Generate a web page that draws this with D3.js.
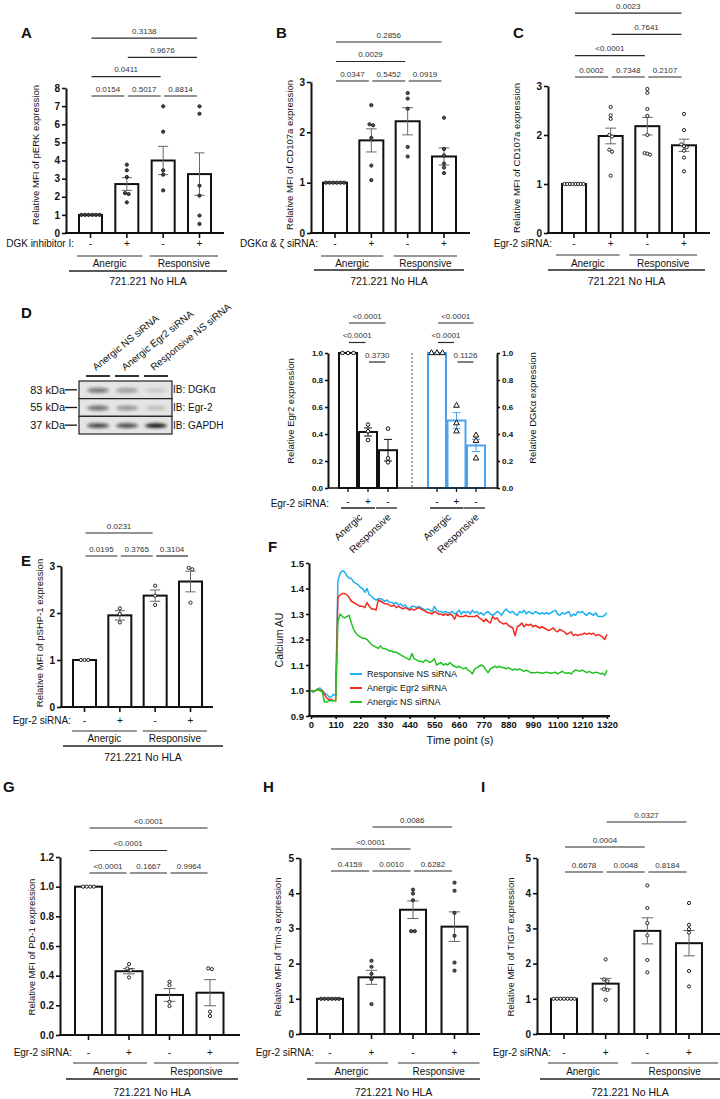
<!DOCTYPE html>
<html><head><meta charset="utf-8">
<script src="https://cdn.jsdelivr.net/npm/d3@7"></script>
<style>
body{margin:0;background:#fff;}
svg{display:block;font-family:"Liberation Sans",Arial,Helvetica,sans-serif;}
</style></head><body>
<svg id="fig" width="720" height="1099"></svg>
<script>
// ================= DATA =================
const treatSigns4 = ["-", "+", "-", "+"];
const groupNames = ["Anergic", "Responsive"];
const cellLine = "721.221 No HLA";

// Panel A – pERK
const aMeans = [1, 2.7, 4.0, 3.25];
const aSem = [0, 0.35, 0.78, 1.17];
const aPoints = [[1,1,1,1,1,1],[3.77,3.46,3.09,2.2,2.15,1.69],[6.99,5.59,3.46,3.22,2.35],[6.99,6.58,2.61,2.06,0.96,0.5]];
const aComps = [[0,1,"0.0154",0],[1,2,"0.5017",0],[2,3,"0.8814",0],[0,2,"0.0411",1],[1,3,"0.9676",2],[0,3,"0.3138",3]];
const aTicks = [0,1,2,3,4,5,6,7,8];

// Panel B – CD107a (DGK siRNA)
const bMeans = [1, 1.84, 2.22, 1.52];
const bSem = [0, 0.23, 0.27, 0.17];
const bPoints = [[1,1,1,1,1,1],[2.54,2.16,2.14,1.89,1.34,1.05],[2.78,2.67,2.47,1.71,1.52],[2.29,1.67,1.54,1.38,1.3,1.19]];
const bComps = [[0,1,"0.0347",0],[1,2,"0.5452",0],[2,3,"0.0919",0],[0,2,"0.0029",1],[0,3,"0.2856",2]];
const bTicks = [0,1,2,3];

// Panel C – CD107a (Egr-2 siRNA)
const cMeans = [1, 1.98, 2.18, 1.79];
const cSem = [0, 0.16, 0.18, 0.125];
const cPoints = [[1,1,1,1,1,1,1,1],[2.57,2.4,2.33,2.0,1.97,1.7,1.66,1.17],[2.94,2.86,2.53,2.39,2.0,1.63,1.62,1.6],[2.43,2.1,1.81,1.77,1.75,1.68,1.54,1.26]];
const cComps = [[0,1,"0.0002",0],[1,2,"0.7348",0],[2,3,"0.2107",0],[0,2,"<0.0001",1],[1,3,"0.7641",2],[0,3,"0.0023",3]];
const cTicks = [0,1,2,3];

// Panel D – western blot
const blotLanes = ["Anergic NS siRNA", "Anergic Egr2 siRNA", "Responsive NS siRNA"];
const blotTargets = ["IB: DGK\u03b1", "IB: Egr-2", "IB: GAPDH"];
const blotMW = ["83 kDa", "55 kDa", "37 kDa"];
const bandIntensity = [[0.5,0.34,0.1],[0.55,0.38,0.15],[0.75,0.72,0.97]];

// Panel D – quantification
const dSigns = ["-", "+", "-"];
const dGroups = ["Anergic", "Responsive"];
const egr2Means = [1.0, 0.415, 0.28];
const egr2Sem = [0, 0.03, 0.08];
const egr2Points = [[1,1,1],[0.47,0.42,0.355],[0.44,0.22,0.19]];
const egr2Comps = [[0,1,"<0.0001",1],[1,2,"0.3730",0],[0,2,"<0.0001",2]];
const dgkMeans = [1.0, 0.5, 0.315];
const dgkSem = [0, 0.058, 0.045];
const dgkPoints = [[1,1,1],[0.61,0.48,0.42],[0.39,0.35,0.22]];
const dgkComps = [[0,1,"<0.0001",1],[1,2,"0.1126",0],[0,2,"<0.0001",2]];
const dTicks = [0,0.2,0.4,0.6,0.8,1.0];

// Panel E – pSHP-1
const eMeans = [1, 1.95, 2.37, 2.67];
const eSem = [0, 0.1, 0.12, 0.22];
const ePoints = [[1,1,1],[2.1,1.98,1.8],[2.58,2.37,2.17],[2.96,2.93,2.22]];
const eComps = [[0,1,"0.0195",0],[1,2,"0.3765",0],[2,3,"0.3104",0],[0,2,"0.0231",1]];
const eTicks = [0,1,2,3];

// Panel F – calcium flux
const fTime = [0,10,20,30,40,50,60,70,80,90,100,110,120,130,140,150,160,170,180,190,200,210,220,230,240,250,260,270,280,290,300,310,320,330,340,350,360,370,380,390,400,410,420,430,440,450,460,470,480,490,500,510,520,530,540,550,560,570,580,590,600,610,620,630,640,650,660,670,680,690,700,710,720,730,740,750,760,770,780,790,800,810,820,830,840,850,860,870,880,890,900,910,920,930,940,950,960,970,980,990,1000,1010,1020,1030,1040,1050,1060,1070,1080,1090,1100,1110,1120,1130,1140,1150,1160,1170,1180,1190,1200,1210,1220,1230,1240,1250,1260,1270,1280,1290,1300,1310,1320];
const fResponsiveNS = [1.00,0.995,1.00,1.005,1.01,1.00,0.99,0.985,0.975,0.975,0.985,0.98,1.43,1.46,1.47,1.465,1.45,1.44,1.44,1.425,1.42,1.415,1.405,1.40,1.385,1.40,1.375,1.37,1.36,1.355,1.36,1.36,1.355,1.35,1.355,1.345,1.345,1.34,1.345,1.335,1.34,1.33,1.335,1.325,1.32,1.33,1.33,1.325,1.33,1.325,1.32,1.315,1.32,1.315,1.31,1.33,1.315,1.31,1.31,1.305,1.31,1.305,1.305,1.31,1.30,1.305,1.315,1.30,1.31,1.305,1.31,1.30,1.315,1.305,1.31,1.30,1.305,1.295,1.305,1.31,1.30,1.295,1.30,1.31,1.305,1.295,1.31,1.32,1.31,1.305,1.31,1.30,1.295,1.31,1.305,1.315,1.30,1.31,1.305,1.30,1.31,1.305,1.30,1.305,1.30,1.305,1.30,1.305,1.31,1.315,1.30,1.295,1.305,1.30,1.305,1.31,1.29,1.30,1.295,1.31,1.305,1.31,1.30,1.295,1.305,1.30,1.295,1.305,1.29,1.29,1.29,1.295,1.305];
const fAnergicEgr2 = [1.00,0.995,1.00,1.005,1.00,1.00,0.985,0.97,0.965,0.965,0.96,0.96,1.365,1.375,1.38,1.38,1.375,1.365,1.35,1.345,1.34,1.335,1.33,1.33,1.325,1.345,1.33,1.32,1.32,1.315,1.355,1.35,1.345,1.34,1.34,1.335,1.33,1.335,1.325,1.33,1.325,1.32,1.325,1.32,1.315,1.32,1.315,1.32,1.325,1.32,1.315,1.31,1.305,1.305,1.30,1.31,1.305,1.30,1.30,1.295,1.30,1.295,1.30,1.295,1.28,1.30,1.29,1.29,1.29,1.295,1.29,1.29,1.29,1.29,1.295,1.285,1.28,1.27,1.28,1.27,1.265,1.29,1.28,1.285,1.27,1.265,1.26,1.265,1.255,1.25,1.245,1.215,1.25,1.255,1.265,1.25,1.26,1.255,1.26,1.25,1.255,1.25,1.245,1.25,1.245,1.24,1.235,1.24,1.245,1.235,1.23,1.24,1.235,1.23,1.22,1.225,1.23,1.215,1.22,1.215,1.22,1.22,1.225,1.22,1.225,1.22,1.225,1.215,1.22,1.215,1.21,1.20,1.22];
const fAnergicNS = [1.00,0.995,1.00,1.005,1.00,0.995,0.955,0.955,0.96,0.96,0.96,0.96,1.27,1.30,1.29,1.285,1.29,1.295,1.265,1.24,1.225,1.215,1.21,1.205,1.205,1.20,1.19,1.18,1.175,1.17,1.165,1.175,1.165,1.165,1.16,1.155,1.155,1.15,1.15,1.145,1.14,1.135,1.13,1.125,1.12,1.145,1.125,1.12,1.115,1.115,1.11,1.12,1.115,1.11,1.115,1.125,1.10,1.105,1.11,1.10,1.105,1.10,1.11,1.10,1.095,1.09,1.095,1.09,1.085,1.09,1.08,1.075,1.065,1.085,1.09,1.095,1.10,1.095,1.08,1.07,1.085,1.09,1.095,1.09,1.095,1.09,1.09,1.085,1.09,1.085,1.08,1.085,1.08,1.085,1.08,1.075,1.08,1.075,1.07,1.07,1.07,1.072,1.07,1.068,1.07,1.072,1.07,1.068,1.07,1.072,1.065,1.07,1.075,1.07,1.068,1.07,1.065,1.075,1.08,1.078,1.075,1.08,1.075,1.07,1.075,1.07,1.068,1.072,1.07,1.065,1.068,1.06,1.08];
const fSeriesNames = ["Responsive NS siRNA", "Anergic Egr2 siRNA", "Anergic NS siRNA"];
const fYTicks = [0.9,1.0,1.1,1.2,1.3,1.4,1.5];
const fXTicks = [0,110,220,330,440,550,660,770,880,990,1100,1210,1320];

// Panel G – PD-1
const gMeans = [1.0, 0.43, 0.27, 0.285];
const gSem = [0, 0.018, 0.043, 0.088];
const gPoints = [[1,1,1,1],[0.478,0.449,0.437,0.388],[0.359,0.336,0.224,0.195],[0.449,0.444,0.157,0.128]];
const gComps = [[0,1,"<0.0001",0],[1,2,"0.1667",0],[2,3,"0.9964",0],[0,2,"<0.0001",1],[0,3,"<0.0001",2]];
const gTicks = [0,0.2,0.4,0.6,0.8,1.0,1.2];

// Panel H – Tim-3
const hMeans = [1.0, 1.61, 3.53, 3.05];
const hSem = [0, 0.2, 0.25, 0.42];
const hPoints = [[1,1,1,1,1,1],[2.08,1.91,1.71,1.56,0.85],[4.1,3.99,3.8,2.92,2.92],[4.3,4.07,3.44,2.79,2.03,1.8]];
const hComps = [[0,1,"0.4159",0],[1,2,"0.0010",0],[2,3,"0.6282",0],[0,2,"<0.0001",1],[1,3,"0.0086",2]];
const hTicks = [0,1,2,3,4,5];

// Panel I – TIGIT
const iMeans = [1.0, 1.43, 2.93, 2.58];
const iSem = [0, 0.15, 0.37, 0.36];
const iPoints = [[1,1,1,1,1,1,1],[2.12,1.55,1.5,1.27,1.25,0.97],[4.22,3.58,3.15,2.8,2.1,1.75],[3.72,3.1,2.98,2.88,1.79,1.35]];
const iComps = [[0,1,"0.6678",0],[1,2,"0.0048",0],[2,3,"0.8184",0],[0,2,"0.0004",1],[1,3,"0.0327",2]];
const iTicks = [0,1,2,3,4,5];

// ================= DRAWING =================
const svg = d3.select("#fig");
const INK = "#111";

function txt(g, x, y, s, opt = {}) {
  const t = g.append("text").attr("x", x).attr("y", y).attr("dy", "0.35em")
    .attr("font-size", opt.size || 10).attr("fill", opt.fill || INK)
    .attr("text-anchor", opt.anchor || "middle").text(s);
  if (opt.bold) t.attr("font-weight", "bold");
  return t;
}
function hline(g, x1, x2, y, w = 1, c = INK) {
  g.append("line").attr("x1", x1).attr("x2", x2).attr("y1", y).attr("y2", y).attr("stroke", c).attr("stroke-width", w);
}
function vtitle(g, x, y, s, size = 9.5) {
  g.append("text").attr("transform", `translate(${x},${y}) rotate(-90)`).attr("dy", "0.35em")
    .attr("text-anchor", "middle").attr("font-size", size).attr("fill", INK).text(s);
}
function letter(t, x, y) { txt(svg, x, y, t, {size: 15, bold: true, anchor: "start"}); }

function jitterOffsets(vals, y, spread) {
  const px = vals.map(v => y(v));
  const idx = d3.range(vals.length).sort((a, b) => px[a] - px[b]);
  const offs = new Array(vals.length).fill(0);
  let i = 0;
  while (i < idx.length) {
    let j = i;
    while (j + 1 < idx.length && px[idx[j + 1]] - px[idx[i]] < 3.2) j++;
    const n = j - i + 1;
    for (let k = 0; k < n; k++) offs[idx[i + k]] = (k - (n - 1) / 2) * spread;
    i = j + 1;
  }
  return offs;
}

function styleAxis(ax, size) {
  ax.attr("font-family", null).attr("font-size", size).attr("font-weight", "bold");
  ax.selectAll("path").attr("stroke", INK).attr("stroke-width", 2);
  ax.selectAll("line").attr("stroke", INK).attr("stroke-width", 1.6);
  ax.selectAll("text").attr("fill", INK);
}

function drawSig(g, comps, x, L) {
  comps.forEach(([a, b, p, tier]) => {
    const yy = L.sig0 - tier * L.sigGap;
    const x1 = x(a) + 1, x2 = x(b) - 2.5;
    hline(g, x1, x2, yy, 1.2, "#2a2a2a");
    g.append("text").attr("x", (x1 + x2) / 2).attr("y", yy - 4.5).attr("text-anchor", "middle")
      .attr("font-size", 8).attr("fill", "#333").text(p);
  });
}

function barPanel(D, L) {
  const g = svg.append("g");
  const x = d3.scalePoint().domain(d3.range(D.means.length)).range([L.c0, L.c1]);
  const y = d3.scaleLinear().domain([0, D.ymax]).range([L.y0, L.yTop]);
  g.selectAll("rect.bar").data(D.means).join("rect").attr("class", "bar")
    .attr("x", (v, i) => x(i) - L.bw / 2).attr("y", v => y(v))
    .attr("width", L.bw).attr("height", v => L.y0 - y(v))
    .attr("fill", "#fff").attr("stroke", INK).attr("stroke-width", 2);
  D.means.forEach((m, i) => {
    const s = D.sem[i]; if (!s) return;
    const cx = x(i), cap = L.bw * 0.22;
    g.append("line").attr("x1", cx).attr("x2", cx).attr("y1", y(m - s)).attr("y2", y(m + s)).attr("stroke", "#666").attr("stroke-width", 1);
    hline(g, cx - cap, cx + cap, y(m + s), 1, "#666");
    hline(g, cx - cap, cx + cap, y(m - s), 1, "#666");
  });
  D.points.forEach((pts, i) => {
    const sp = Math.min(3.6, (L.bw - 5) / Math.max(1, pts.length - 1));
    const offs = jitterOffsets(pts, y, sp);
    g.selectAll(null).data(pts).join("circle")
      .attr("cx", (v, k) => x(i) + offs[k]).attr("cy", v => y(v)).attr("r", 1.6)
      .attr("fill", L.ptFill || "#fff").attr("stroke", "#222").attr("stroke-width", 1);
  });
  const ax = g.append("g").attr("transform", `translate(${L.axisX},0)`)
    .call(d3.axisLeft(y).tickValues(D.ticks).tickFormat(d3.format(D.fmt)).tickSize(4).tickSizeOuter(0).tickPadding(2));
  styleAxis(ax, 10);
  hline(g, L.axisX - 1, L.axisEnd, L.y0, 2);
  D.means.forEach((m, i) => {
    g.append("line").attr("x1", x(i)).attr("x2", x(i)).attr("y1", L.y0).attr("y2", L.y0 + 5).attr("stroke", INK).attr("stroke-width", 1.6);
  });
  vtitle(g, L.titleX, L.titleY, D.title, 9.5);
  drawSig(g, D.comps, x, L);
  txt(g, L.treatX, L.signY, D.treat, {anchor: "end", size: 10});
  treatSigns4.forEach((s, i) => txt(g, x(i), L.signY, s, {size: 10}));
  [[0, 1], [2, 3]].forEach(([a, b], k) => {
    const gx1 = x(a) - L.gpad[0], gx2 = x(b) + L.gpad[k === 0 ? 1 : 2];
    hline(g, gx1, gx2, L.groupLineY, 1, "#333");
    txt(g, (gx1 + gx2) / 2, L.groupTextY, groupNames[k], {size: 10});
  });
  hline(g, L.bot[0], L.bot[1], L.bottomLineY, 1.6, "#222");
  txt(g, (L.bot[0] + L.bot[1]) / 2, L.bottomTextY, cellLine, {size: 10.5});
}

// ---- Panel A
letter("A", 21, 33);
barPanel({means: aMeans, sem: aSem, points: aPoints, comps: aComps, ticks: aTicks, fmt: "d", ymax: 8,
  title: "Relative MFI of pERK expression", treat: "DGK inhibitor I:"},
  {axisX: 66, axisEnd: 224, y0: 233, yTop: 88, c0: 90.5, c1: 199.5, bw: 23, titleX: 36, titleY: 155,
   sig0: 96, sigGap: 19.3, treatX: 74, signY: 243, gpad: [13.5, 15.5, 18.5], groupLineY: 256, groupTextY: 263,
   bot: [69, 227], bottomLineY: 271, bottomTextY: 281, ptFill: "#444"});

// ---- Panel B
letter("B", 276, 33);
barPanel({means: bMeans, sem: bSem, points: bPoints, comps: bComps, ticks: bTicks, fmt: "d", ymax: 3,
  title: "Relative MFI of CD107a expression", treat: "DGK\u03b1 & \u03b6 siRNA:"},
  {axisX: 311, axisEnd: 470, y0: 233, yTop: 82, c0: 335, c1: 444, bw: 24, titleX: 290, titleY: 155,
   sig0: 81, sigGap: 19.5, treatX: 318, signY: 243, gpad: [14, 12, 13], groupLineY: 256, groupTextY: 263,
   bot: [314, 464], bottomLineY: 270, bottomTextY: 281, ptFill: "#555"});

// ---- Panel C
letter("C", 513, 33);
barPanel({means: cMeans, sem: cSem, points: cPoints, comps: cComps, ticks: cTicks, fmt: "d", ymax: 3,
  title: "Relative MFI of CD107a expression", treat: "Egr-2 siRNA:"},
  {axisX: 548, axisEnd: 710, y0: 233, yTop: 86, c0: 574, c1: 684, bw: 24, titleX: 517, titleY: 158,
   sig0: 77, sigGap: 21.3, treatX: 552, signY: 243, gpad: [18, 9, 13], groupLineY: 255, groupTextY: 263,
   bot: [548, 705], bottomLineY: 270, bottomTextY: 281});

// ---- Panel D blot
letter("D", 21, 313);
(function () {
  const g = svg.append("g");
  const defs = svg.append("defs");
  defs.append("filter").attr("id", "blur").attr("x", "-50%").attr("y", "-100%").attr("width", "200%").attr("height", "300%")
    .append("feGaussianBlur").attr("stdDeviation", 1.4);
  const lane = d3.scalePoint().domain(d3.range(blotLanes.length)).range([98, 156]);
  const row = d3.scaleBand().domain(d3.range(blotTargets.length)).range([381, 434]);
  blotTargets.forEach((t, r) => {
    g.append("rect").attr("x", 79).attr("y", row(r)).attr("width", 93).attr("height", row.bandwidth())
      .attr("fill", "#e4e4e4").attr("stroke", "#222").attr("stroke-width", 1.2);
    bandIntensity[r].forEach((v, l) => {
      g.append("ellipse").attr("cx", lane(l)).attr("cy", row(r) + row.bandwidth() / 2 + 0.5)
        .attr("rx", 11).attr("ry", r === 2 ? 2.3 : 2.6).attr("fill", `rgba(20,20,20,${v})`).attr("filter", "url(#blur)");
    });
    const cy = row(r) + row.bandwidth() / 2;
    txt(g, 65, cy, blotMW[r], {anchor: "end", size: 11});
    hline(g, 65, 77, cy, 1.3);
    txt(g, 173, cy, t, {anchor: "start", size: 10});
  });
  blotLanes.forEach((s, l) => {
    hline(g, lane(l) - 12, lane(l) + 12, 376, 2, "#333");
    g.append("text").attr("transform", `translate(${lane(l) - 2},371) rotate(-39)`)
      .attr("font-size", 10).attr("fill", INK).text(s);
  });
})();

// ---- Panel D quantification
(function () {
  const g = svg.append("g");
  const y0 = 488, yTop = 353, axL = 328, axR = 497;
  const y = d3.scaleLinear().domain([0, 1]).range([y0, yTop]);
  const xE = d3.scalePoint().domain(d3.range(3)).range([348, 388]);
  const xD = d3.scalePoint().domain(d3.range(3)).range([437, 476]);
  const bw = 18;
  const sets = [
    {x: xE, means: egr2Means, sem: egr2Sem, pts: egr2Points, comps: egr2Comps, color: "#111", sym: "circle"},
    {x: xD, means: dgkMeans, sem: dgkSem, pts: dgkPoints, comps: dgkComps, color: "#4aa3f0", sym: "tri"}
  ];
  sets.forEach(S => {
    g.selectAll(null).data(S.means).join("rect")
      .attr("x", (v, i) => S.x(i) - bw / 2).attr("y", v => y(v)).attr("width", bw).attr("height", v => y0 - y(v))
      .attr("fill", "#fff").attr("stroke", S.color).attr("stroke-width", 2);
    S.means.forEach((m, i) => {
      const s = S.sem[i]; if (!s) return;
      const cx = S.x(i);
      g.append("line").attr("x1", cx).attr("x2", cx).attr("y1", y(m - s)).attr("y2", y(m + s)).attr("stroke", S.color).attr("stroke-width", 1);
      hline(g, cx - 4, cx + 4, y(m + s), 1, S.color);
      hline(g, cx - 4, cx + 4, y(m - s), 1, S.color);
    });
    S.pts.forEach((pts, i) => {
      const offs = jitterOffsets(pts, y, 5.5);
      pts.forEach((v, k) => {
        if (S.sym === "circle") {
          g.append("circle").attr("cx", S.x(i) + offs[k]).attr("cy", y(v)).attr("r", 1.8)
            .attr("fill", "#fff").attr("stroke", "#111").attr("stroke-width", 1);
        } else {
          g.append("path").attr("d", d3.symbol(d3.symbolTriangle, 14)())
            .attr("transform", `translate(${S.x(i) + offs[k]},${y(v)})`)
            .attr("fill", "#fff").attr("stroke", "#111").attr("stroke-width", 1);
        }
      });
      g.append("line").attr("x1", S.x(i)).attr("x2", S.x(i)).attr("y1", y0).attr("y2", y0 + 4).attr("stroke", INK).attr("stroke-width", 1.3);
    });
    drawSig(g, S.comps, S.x, {sig0: 362, sigGap: 19.5});
    dSigns.forEach((s, i) => txt(g, S.x(i), 501, s, {size: 10}));
    const gl = [[S.x(0) - 7, S.x(1) + 7], [S.x(2) - 12, S.x(2) + 9]];
    gl.forEach(([a, b], k) => {
      hline(g, a, b, 508, 1.3, "#222");
      g.append("text").attr("transform", `translate(${(a + b) / 2 + 5},518) rotate(-43)`)
        .attr("text-anchor", "end").attr("font-size", 10).attr("fill", INK).text(dGroups[k]);
    });
  });
  const axl = g.append("g").attr("transform", `translate(${axL},0)`)
    .call(d3.axisLeft(y).tickValues(dTicks).tickFormat(d3.format(".1f")).tickSize(3).tickSizeOuter(0).tickPadding(2));
  styleAxis(axl, 8);
  const axr = g.append("g").attr("transform", `translate(${axR},0)`)
    .call(d3.axisRight(y).tickValues(dTicks).tickFormat(d3.format(".1f")).tickSize(3).tickSizeOuter(0).tickPadding(2));
  styleAxis(axr, 8);
  hline(g, axL, axR, y0, 1.5);
  g.append("line").attr("x1", 412).attr("x2", 412).attr("y1", yTop).attr("y2", y0)
    .attr("stroke", "#444").attr("stroke-width", 1).attr("stroke-dasharray", "2,2");
  vtitle(g, 291, 411, "Relative Egr2 expression", 9.5);
  vtitle(g, 533, 408, "Relative DGK\u03b1 expression", 9.5);
  txt(g, 329, 503, "Egr-2 siRNA:", {anchor: "end", size: 10});
})();

// ---- Panel E
letter("E", 21, 561);
barPanel({means: eMeans, sem: eSem, points: ePoints, comps: eComps, ticks: eTicks, fmt: "d", ymax: 3,
  title: "Relative MFI of pSHP-1 expression", treat: "Egr-2 siRNA:"},
  {axisX: 61, axisEnd: 213, y0: 707, yTop: 566, c0: 84.5, c1: 190.5, bw: 23, titleX: 40, titleY: 633,
   sig0: 556, sigGap: 23, treatX: 71, signY: 720, gpad: [12.5, 17, 16.5], groupLineY: 731, groupTextY: 738,
   bot: [63, 223], bottomLineY: 746, bottomTextY: 757});

// ---- Panel F
letter("F", 268, 547);
(function () {
  const g = svg.append("g");
  const x = d3.scaleLinear().domain([0, 1320]).range([311, 607]);
  const y = d3.scaleLinear().domain([0.9, 1.5]).range([716, 563]);
  const series = [fResponsiveNS, fAnergicEgr2, fAnergicNS];
  const colors = ["#1fb1f0", "#f52a1e", "#22c222"];
  const line = d3.line().x((d, i) => x(fTime[i])).y(d => y(d));
  series.forEach((s, k) => {
    g.append("path").attr("d", line(s)).attr("fill", "none").attr("stroke", colors[k]).attr("stroke-width", 1.5).attr("stroke-linejoin", "round");
  });
  const ay = g.append("g").attr("transform", "translate(309,0)")
    .call(d3.axisLeft(y).tickValues(fYTicks).tickFormat(d3.format(".1f")).tickSize(3).tickSizeOuter(0).tickPadding(2));
  styleAxis(ay, 9.5);
  const axg = g.append("g").attr("transform", "translate(0,716)")
    .call(d3.axisBottom(x).tickValues(fXTicks).tickFormat(d3.format("d")).tickSize(3).tickSizeOuter(0).tickPadding(2));
  styleAxis(axg, 9.5);
  hline(g, 308, 610, 716, 2);
  vtitle(g, 279, 640, "Calcium AU", 10.5);
  txt(g, 460, 740, "Time point (s)", {size: 11});
  fSeriesNames.forEach((n, k) => {
    const ly = 674 + k * 14;
    hline(g, 350, 362, ly, 2, colors[k]);
    txt(g, 367, ly, n, {anchor: "start", size: 9});
  });
})();

// ---- Panel G
letter("G", 3, 787);
barPanel({means: gMeans, sem: gSem, points: gPoints, comps: gComps, ticks: gTicks, fmt: ".1f", ymax: 1.2,
  title: "Relative MFI of PD-1 expression", treat: "Egr-2 siRNA:"},
  {axisX: 60, axisEnd: 240, y0: 1035, yTop: 857, c0: 88.5, c1: 210, bw: 27, titleX: 32, titleY: 947,
   sig0: 873, sigGap: 22.5, treatX: 72, signY: 1052, gpad: [15.5, 18, 29], groupLineY: 1063, groupTextY: 1071,
   bot: [66, 238], bottomLineY: 1079, bottomTextY: 1092});

// ---- Panel H
letter("H", 263, 787);
barPanel({means: hMeans, sem: hSem, points: hPoints, comps: hComps, ticks: hTicks, fmt: "d", ymax: 5,
  title: "Relative MFI of Tim-3 expression", treat: "Egr-2 siRNA:"},
  {axisX: 300, axisEnd: 480, y0: 1034, yTop: 858, c0: 330, c1: 454.5, bw: 26, titleX: 278, titleY: 947,
   sig0: 871, sigGap: 22, treatX: 314, signY: 1052, gpad: [15, 16.5, 25], groupLineY: 1063, groupTextY: 1071,
   bot: [307, 480], bottomLineY: 1079, bottomTextY: 1092, ptFill: "#555"});

// ---- Panel I
letter("I", 481, 787);
barPanel({means: iMeans, sem: iSem, points: iPoints, comps: iComps, ticks: iTicks, fmt: "d", ymax: 5,
  title: "Relative MFI of TIGIT expression", treat: "Egr-2 siRNA:"},
  {axisX: 537, axisEnd: 720, y0: 1034, yTop: 858, c0: 564, c1: 689, bw: 26, titleX: 511, titleY: 947,
   sig0: 872, sigGap: 25, treatX: 551, signY: 1052, gpad: [16, 12.5, 29], groupLineY: 1063, groupTextY: 1071,
   bot: [540, 720], bottomLineY: 1079, bottomTextY: 1092});
</script>
</body></html>
